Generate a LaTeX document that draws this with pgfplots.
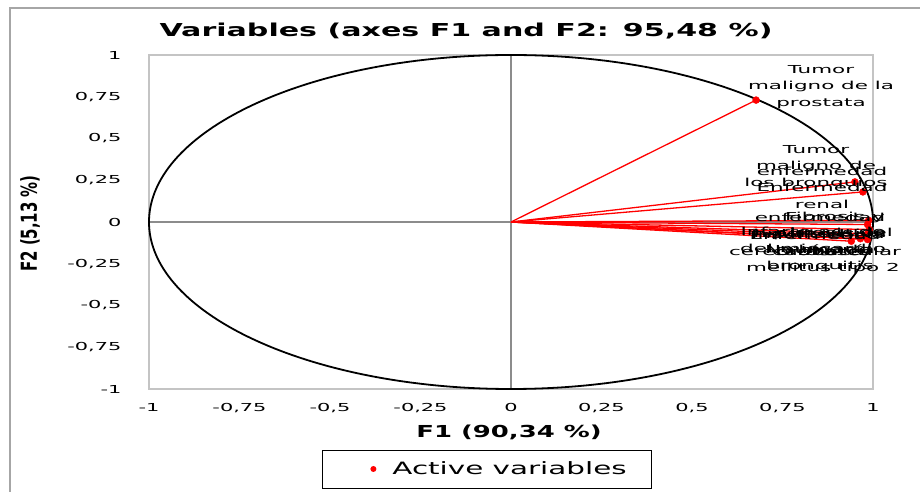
\documentclass[border=0pt]{standalone}
\usepackage{pgfplots}
\pgfplotsset{compat=1.18}
\usepackage{pgfplotstable}
\usepackage{fontspec}
\setmainfont{DejaVu Sans}
\usepackage{graphicx}

\definecolor{framegray}{HTML}{A6A6A6}
\definecolor{plotgray}{HTML}{C4C4C4}
\definecolor{zerogray}{HTML}{8C8C8C}

% correlations of the active variables with F1 and F2
\pgfplotstableread{
x y
0.677 0.730
0.950 0.240
0.972 0.180
0.988 0.010
0.985 -0.015
0.990 -0.045
0.985 -0.070
0.975 -0.085
0.965 -0.100
0.940 -0.115
0.985 -0.105
}\vars

\newcommand\tl[1]{\scalebox{1.9}[1]{#1}}
\newcommand\lbl[1]{\scalebox{1.95}[1]{\fontsize{11}{16.5}\selectfont\begin{tabular}{@{}c@{}}#1\end{tabular}}}

\begin{document}
\begin{tikzpicture}[x=1pt,y=1pt]
\useasboundingbox (0,0) rectangle (920,492);
\draw[framegray, line width=2.5pt] (10,-2) -- (10,484) -- (922,484);
\begin{axis}[
  at={(149pt,103pt)}, anchor=south west,
  width=724pt, height=334pt, scale only axis,
  xmin=-1, xmax=1, ymin=-1, ymax=1,
  axis line style={plotgray, line width=1.5pt},
  major tick length=0pt,
  xtick={-1,-0.75,-0.5,-0.25,0,0.25,0.5,0.75,1},
  ytick={-1,-0.75,-0.5,-0.25,0,0.25,0.5,0.75,1},
  xticklabels={\tl{-1},\tl{-0,75},\tl{-0,5},\tl{-0,25},\tl{0},\tl{0,25},\tl{0,5},\tl{0,75},\tl{1}},
  yticklabels={\tl{-1},\tl{-0,75},\tl{-0,5},\tl{-0,25},\tl{0},\tl{0,25},\tl{0,5},\tl{0,75},\tl{1}},
  ticklabel style={font=\fontsize{11}{13}\selectfont},
  xticklabel style={yshift=-11pt},
  yticklabel style={xshift=-24pt},
  clip=false,
  legend style={at={(0.4669,-0.2395)}, anchor=center, draw=black, line width=0.8pt,
    font=\fontsize{17}{20}\selectfont, inner xsep=0pt, inner ysep=0pt,
    nodes={inner sep=0pt}, column sep=0pt},
  legend image code/.code={\path[draw=none,fill=none] (0pt,-19pt) rectangle (70pt,19pt); \fill[red,draw=none] (51pt,0pt) circle (3pt);},
]
\draw[zerogray, line width=1.5pt] (axis cs:-1,0) -- (axis cs:1,0);
\draw[zerogray, line width=1.5pt] (axis cs:0,-1) -- (axis cs:0,1);
\draw[black, line width=1.8pt] (axis cs:0,0) ellipse [x radius=1, y radius=1];
\addplot[red, line width=1.3pt, forget plot, quiver={u=\thisrow{x}, v=\thisrow{y}}] table[x expr=0, y expr=0] {\vars};
\addplot[only marks, mark=*, mark size=3.5pt, red] table {\vars};
\addlegendentry{\scalebox{1.73}[1]{Active variables}\hspace*{25pt}}
\end{axis}
% titles
\node at (466,461) {\scalebox{1.69}[1]{\fontsize{17.8}{20}\selectfont\bfseries Variables (axes F1 and F2: 95,48 \%)}};
\node at (509,59.5) {\scalebox{1.57}[1]{\fontsize{16.5}{20}\selectfont\bfseries F1 (90,34 \%)}};
\node at (30,268.5) {\rotatebox{90}{\scalebox{0.68}[1]{\fontsize{22}{26}\selectfont\bfseries F2 (5,13 \%)}}};
% point labels
\node at (821,405.5) {\lbl{Tumor\\maligno de la\\prostata}};
\node at (816,325.5) {\lbl{Tumor\\maligno de\\los bronquios}};
\node at (822,303.5) {\lbl{enfermedad\\Enfermedad\\renal}};
\node at (835,258.5) {\lbl{Fibrosis y\\cirrosis del\\hígado}};
\node at (820,266) {\lbl{enfermedad\\hipertensiva}};
\node at (813,251.5) {\lbl{Infarto agudo\\del miocardio}};
\node at (818,248.5) {\lbl{Insuficiencia\\cardiaca}};
\node at (815,248) {\lbl{Enfermedad\\cerebrovascular}};
\node at (823,232) {\lbl{Diabetes\\mellitus tipo 2}};
\node at (820,234) {\lbl{Neumonía\\bronquitis}};
\end{tikzpicture}
\end{document}
